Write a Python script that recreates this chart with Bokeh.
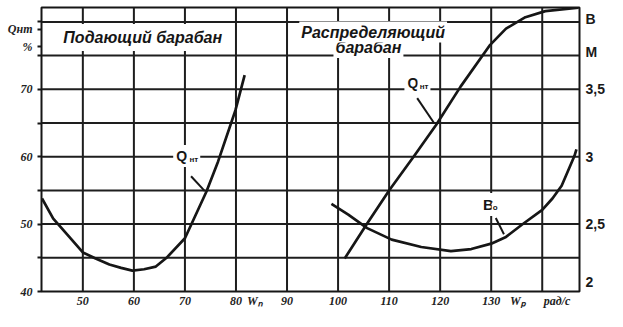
from bokeh.plotting import figure
from bokeh.models import Range1d, LinearAxis, FixedTicker, Label
from bokeh.embed import file_html
from bokeh.resources import INLINE

# ---- data ----
# feed drum: Q (%) vs angular speed (rad/s)
feed_w = [42.0, 44.2, 47.0, 50.0, 52.5, 55.2, 57.5, 59.7, 62.0, 64.3, 66.4, 70.0, 74.2, 76.5, 79.9, 81.7]
feed_q = [53.8, 50.8, 48.4, 45.8, 44.9, 44.0, 43.5, 43.1, 43.3, 43.7, 45.0, 47.9, 54.8, 59.3, 66.9, 72.1]

# distributing drum: Q (%) vs angular speed
dist_w = [101.3, 105.7, 110.1, 114.9, 119.2, 124.0, 129.8, 132.9, 136.7, 140.6, 147.1]
dist_q = [44.9, 50.1, 55.1, 60.1, 64.7, 70.4, 76.6, 79.0, 80.7, 81.6, 82.1]

# distributing drum: B_o (right axis, m) vs angular speed
dist_bw = [98.7, 102.0, 105.7, 110.5, 116.3, 122.1, 126.1, 130.0, 132.9, 136.0, 140.0, 142.0, 143.8, 145.0, 146.3, 146.7]
dist_b = [2.65, 2.57, 2.47, 2.385, 2.33, 2.30, 2.315, 2.355, 2.405, 2.495, 2.605, 2.69, 2.785, 2.89, 3.005, 3.055]

# ticks / grid
x_ticks = [50, 60, 70, 80, 90, 100, 110, 120, 130]
x_unit_pos = [83.7, 135.2, 142.9]
x_unit_text = ["Wₙ", "Wₚ", "рад/с"]
x_grid = [50, 60, 70, 80, 90, 100, 110, 120, 130, 140]
left_ticks = [40, 50, 60, 70]
left_minor = [45, 55, 65, 75, 80]
left_title_pos = [78.9, 76.35]
left_title_text = ["Qнт", "%"]
y_grid = [45, 50, 55, 60, 65, 70, 75, 80]
right_pos = [2.07, 2.5, 3.0, 3.5, 3.78, 4.02]
right_text = ["2", "2,5", "3", "3,5", "М", "В"]

X0, X1 = 41.9, 147.3
Y0, Y1 = 40.0, 82.14
INK = "#161616"
GRID = "#1e1e1e"

p = figure(width=607, height=311, x_range=Range1d(X0, X1), y_range=Range1d(Y0, Y1),
           output_backend="svg", toolbar_location=None,
           min_border_left=41, min_border_right=27, min_border_top=7, min_border_bottom=20)
p.outline_line_color = INK
p.outline_line_width = 2
p.grid.visible = False

# grid lines drawn as glyphs
p.segment(x0=x_grid, y0=[Y0] * len(x_grid), x1=x_grid, y1=[Y1] * len(x_grid),
          line_color=GRID, line_width=2)
p.segment(x0=[X0] * len(y_grid), y0=y_grid, x1=[X1] * len(y_grid), y1=y_grid,
          line_color=GRID, line_width=2)

# bottom axis
xa = p.xaxis[0]
xa.ticker = FixedTicker(ticks=x_ticks + x_unit_pos)
xa.major_label_overrides = {**{t: str(t) for t in x_ticks}, **dict(zip(x_unit_pos, x_unit_text))}
xa.axis_line_color = None
xa.major_tick_line_color = None
xa.minor_tick_line_color = None
xa.major_tick_out = 0
xa.major_tick_in = 0
xa.minor_tick_out = 0
xa.major_label_standoff = 2
xa.major_label_text_font = "Liberation Serif"
xa.major_label_text_font_style = "bold italic"
xa.major_label_text_font_size = "12px"
xa.major_label_text_color = "#222"

# left axis (values plus the Q / % title placed at the top)
ya = p.yaxis[0]
ya.ticker = FixedTicker(ticks=left_ticks + left_title_pos, minor_ticks=left_minor)
ya.major_label_overrides = {**{t: str(t) for t in left_ticks}, **dict(zip(left_title_pos, left_title_text))}
ya.axis_line_color = None
ya.major_tick_line_color = INK
ya.major_tick_line_width = 2
ya.major_tick_out = 4
ya.major_tick_in = 0
ya.minor_tick_line_color = INK
ya.minor_tick_line_width = 2
ya.minor_tick_out = 4
ya.minor_tick_in = 0
ya.major_label_standoff = 5
ya.major_label_text_font = "Liberation Serif"
ya.major_label_text_font_style = "bold italic"
ya.major_label_text_font_size = "12px"
ya.major_label_text_color = "#222"

# right axis
p.extra_y_ranges = {"b": Range1d(2.0, 2.0 + (Y1 - 40) / 20.0)}
ra = LinearAxis(y_range_name="b", ticker=FixedTicker(ticks=right_pos),
                major_label_overrides=dict(zip(right_pos, right_text)))
ra.axis_line_color = None
ra.major_tick_line_color = None
ra.minor_tick_line_color = None
ra.major_tick_out = 0
ra.major_tick_in = 0
ra.minor_tick_out = 0
ra.major_label_standoff = 6
ra.major_label_text_font = "Liberation Sans"
ra.major_label_text_font_style = "bold"
ra.major_label_text_font_size = "14px"
ra.major_label_text_color = "#1a1a1a"
p.add_layout(ra, "right")

# curves
p.line(feed_w, feed_q, line_color=INK, line_width=2.7, line_join="round")
p.line(dist_w, dist_q, line_color=INK, line_width=2.7, line_join="round")
p.line(dist_bw, dist_b, line_color=INK, line_width=2.7, line_join="round", y_range_name="b")

# leader lines
p.segment(x0=[71.2, 115.5, 130.9], y0=[57.1, 68.7, 50.9], x1=[73.9, 118.8, 132.5], y1=[54.9, 65.0, 48.5],
          line_color=INK, line_width=2)

# text labels (white backgrounds break the grid like in the original)
def lab(x, y, text, size, style="bold italic", font="Liberation Sans", bg=True, pad=3):
    kw = dict(x=x, y=y, text=text, text_font=font, text_font_style=style, text_font_size=size,
              text_color=INK, text_align="left", text_baseline="middle")
    if bg:
        kw.update(background_fill_color="white", padding=pad)
    p.add_layout(Label(**kw))

lab(45.2, 77.7, "Подающий барабан", "16px", pad=5)
lab(99.1, 76.2, "барабан", "16px", pad=2)
lab(92.4, 78.5, "Распределяющий", "16px", pad=2)

lab(67.7, 60.1, "Q", "14px", style="bold", pad=3)
lab(70.5, 59.6, "нт", "8px", style="bold", pad=2)
lab(113.0, 70.9, "Q", "14px", style="bold", pad=3)
lab(115.6, 70.4, "нт", "8px", style="bold", pad=2)
lab(127.8, 52.9, "B", "15px", style="bold", pad=3)
lab(130.1, 52.4, "о", "8px", style="bold", pad=1)

open("out.html", "w").write(file_html(p, INLINE))
